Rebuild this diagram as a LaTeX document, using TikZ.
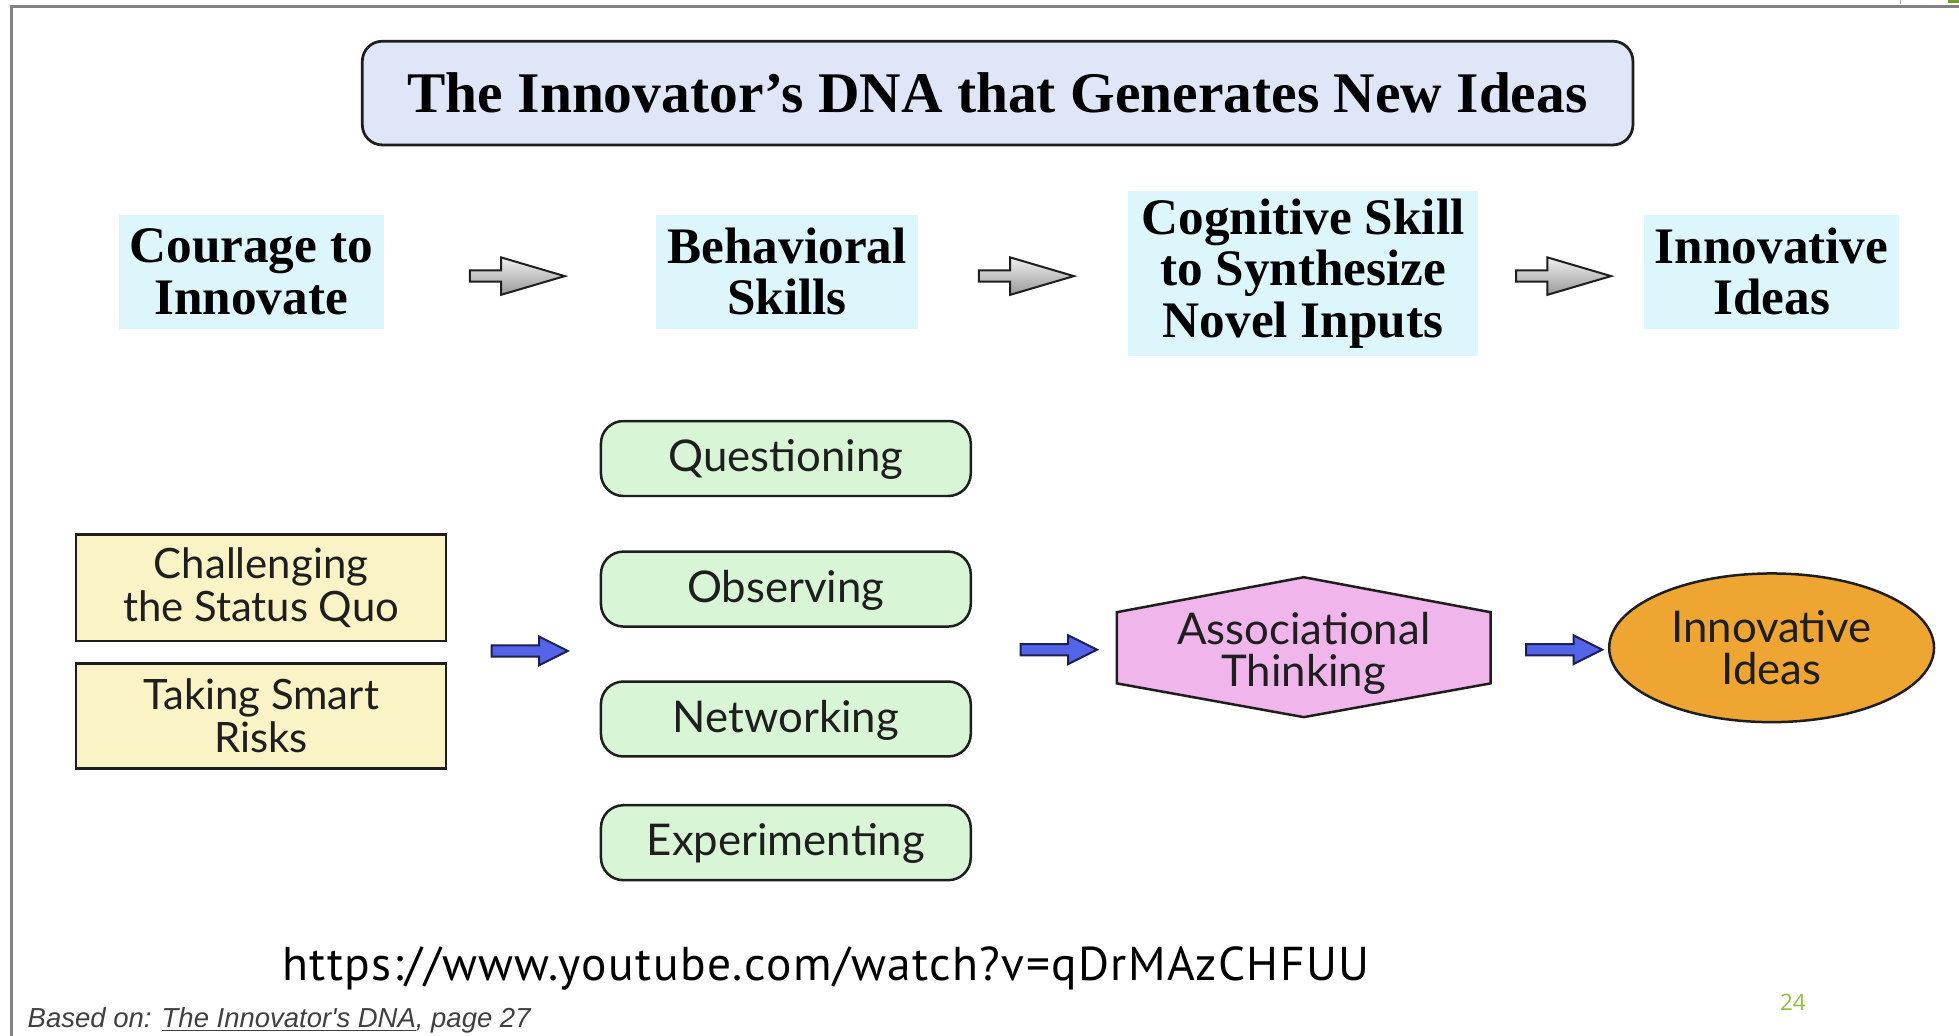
\documentclass[tikz,border=0pt]{standalone}
\usepackage{fontspec}
\setmainfont{Liberation Serif}
\newfontfamily\gillish{Lato}
\newfontfamily\urlfont[LetterSpace=3]{PT Sans}
\newfontfamily\numfont{Open Sans}
\newfontfamily\notefont{Liberation Sans}
\usetikzlibrary{calc,backgrounds,shapes.geometric}

\definecolor{framegray}{RGB}{130,130,130}
\definecolor{titlefill}{RGB}{222,230,248}
\definecolor{cyanfill}{RGB}{221,246,251}
\definecolor{yellowfill}{RGB}{250,243,198}
\definecolor{greenfill}{RGB}{216,246,214}
\definecolor{pinkfill}{RGB}{240,182,236}
\definecolor{orangefill}{RGB}{239,165,50}
\definecolor{bluearrow}{RGB}{84,100,232}
\definecolor{navyline}{RGB}{30,30,80}
\definecolor{inkdark}{RGB}{30,30,30}
\definecolor{pagegreen}{RGB}{140,195,60}

\tikzset{
  titlebox/.style={draw=inkdark, line width=2.2pt, fill=titlefill, rounded corners=16pt,
    minimum width=1017pt, minimum height=83pt, inner sep=0pt,
    font=\bfseries\fontsize{46}{48}\selectfont},
  stagebox/.style={fill=cyanfill, inner sep=0pt, align=center,
    font=\bfseries\fontsize{41}{41}\selectfont},
  yellowbox/.style={draw=inkdark, line width=2pt, fill=yellowfill, inner sep=0pt,
    minimum width=296pt, align=center, text=inkdark,
    font=\gillish\fontsize{33.5}{34}\selectfont},
  greenbox/.style={draw=inkdark, line width=2pt, fill=greenfill, rounded corners=18pt,
    inner sep=0pt, minimum width=296pt, minimum height=60pt, text=inkdark,
    text height=25pt, text depth=4pt,
    font=\gillish\fontsize{35}{34}\selectfont},
  softtext/.style={align=center, text=inkdark, font=\gillish\fontsize{35}{34}\selectfont},
  grayarr/.pic={
    \draw[line width=1.6pt, draw=inkdark, top color=gray!12, bottom color=gray!80]
      (-38,-4.5) -- (-13,-4.5) -- (-13,-15) -- (38,0) -- (-13,15) -- (-13,4.5) -- (-38,4.5) -- cycle;
  },
  bluearr/.pic={
    \draw[line width=1.6pt, draw=navyline, fill=bluearrow]
      (-30.5,-4.5) -- (7.5,-4.5) -- (7.5,-11.5) -- (30.5,0) -- (7.5,11.5) -- (7.5,4.5) -- (-30.5,4.5) -- cycle;
  }
}

\begin{document}
\begin{tikzpicture}[x=1pt,y=-1pt]
  \useasboundingbox (0,0) rectangle (1568,829);
  \begin{scope}[on background layer]
    \fill[white] (0,0) rectangle (1568,829);
  \end{scope}

  % slide frame
  \draw[framegray, line width=2.5pt] (9,829) -- (9,5) -- (1568,5);
  \draw[framegray!70, line width=1pt] (1521,0) -- (1521,3);
  \fill[pagegreen!80!black] (1559,0) rectangle (1568,2.5);

  % heading
  \node[titlebox] (title) at (798.5,74.5) {The Innovator’s DNA that Generates New Ideas};

  % upper chain of stages
  \node[stagebox, minimum width=212pt, minimum height=91pt] (courage) at (201,217.5) {Courage to\\Innovate};
  \node[stagebox, minimum width=210pt, minimum height=91pt] (behav) at (630,217.5) {Behavioral\\Skills};
  \node[stagebox, minimum width=280pt, minimum height=132pt] (cogn) at (1043,219) {Cognitive Skill\\to Synthesize\\Novel Inputs};
  \node[stagebox, minimum width=204pt, minimum height=91pt] (innov) at (1418,217.5) {Innovative\\Ideas};

  \pic (ga1) at (414,221) {grayarr};
  \pic (ga2) at (821.5,221) {grayarr};
  \pic (ga3) at (1251.5,221) {grayarr};

  % lower chain
  \node[yellowbox, minimum height=85pt] (chal) at (209,470.5) {Challenging\\the Status Quo};
  \node[yellowbox, minimum height=84pt] (risk) at (209,573) {Taking Smart\\Risks};

  \node[greenbox] (quest) at (629,367) {Questioning};
  \node[greenbox] (obs) at (629,471.5) {Observing};
  \node[greenbox] (net) at (629,575.5) {Networking};
  \node[greenbox] (exper) at (629,674.5) {Experimenting};

  % hexagon centred at (hexc); its label sits a little lower
  \coordinate (hexc) at (1043.5,518);
  \draw[draw=inkdark, line width=2pt, fill=pinkfill, line join=miter]
    ($(hexc)+(-149.5,-28)$) -- ($(hexc)+(0,-56)$) -- ($(hexc)+(149.5,-28)$) --
    ($(hexc)+(149.5,29)$) -- ($(hexc)+(0,56)$) -- ($(hexc)+(-149.5,29)$) -- cycle;
  \node[softtext, inner sep=0pt] (assoc) at ($(hexc)+(0,5)$) {Associational\\Thinking};

  \node[softtext, draw=inkdark, line width=2pt, fill=orangefill, ellipse, inner sep=0pt,
        minimum width=260pt, minimum height=119pt] (idea) at (1418,518.5) {Innovative\\Ideas};

  \pic (ba1) at (424,521) {bluearr};
  \pic (ba2) at (847.5,520) {bluearr};
  \pic (ba3) at (1252,520) {bluearr};

  % source notes
  \node[font=\urlfont\fontsize{38}{40}\selectfont, text=black, inner sep=0pt] (url) at (661,775)
    {https://www.youtube.com/watch?v=qDrMAzCHFUU};
  \node[font=\notefont\itshape\fontsize{22}{24}\selectfont, text=black!75, anchor=west, inner sep=0pt] (based) at (22,817)
    {Based on: \underline{The Innovator's DNA}, page 27};
  \node[font=\numfont\fontsize{18}{20}\selectfont, text=pagegreen, inner sep=0pt] (pagenum) at (1435,802) {24};
\end{tikzpicture}
\end{document}
